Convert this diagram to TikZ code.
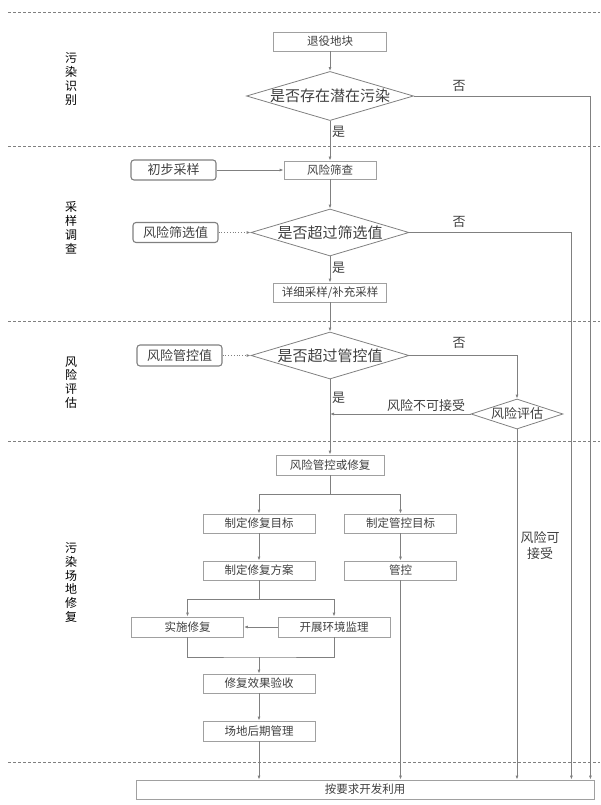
\documentclass[tikz,border=0pt]{standalone}
\usepackage{fontspec}
\newfontfamily\cjk{Noto Sans CJK SC}
\usetikzlibrary{shapes.geometric,arrows.meta}
\definecolor{linegray}{HTML}{808080}
\definecolor{boxgray}{HTML}{A0A0A0}
\definecolor{textgray}{HTML}{404040}
\tikzset{
  stepbox/.style={draw=boxgray, line width=0.8pt, text=textgray, font=\cjk\fontsize{11.5pt}{13pt}\selectfont, minimum width=112pt, minimum height=19pt, inner sep=0pt},
  inputbox/.style={draw=gray, line width=1.1pt, rounded corners=3pt, text=textgray, font=\cjk\fontsize{13pt}{15pt}\selectfont, minimum width=85pt, minimum height=20pt, inner sep=0pt},
  decision/.style={diamond, draw=linegray, line width=0.8pt, aspect=3.4, inner sep=0pt, text=textgray, font=\cjk\fontsize{15pt}{17pt}\selectfont, minimum width=158pt, minimum height=47pt},
  phase/.style={align=center, font=\cjk\fontsize{12pt}{13.8pt}\selectfont, text=black},
  answer/.style={text=textgray, font=\cjk\fontsize{13pt}{16pt}\selectfont, inner sep=0pt, align=center},
  flow/.style={draw=linegray, line width=0.8pt, -{Latex[length=4pt,width=3pt]}},
  joint/.style={draw=linegray, line width=0.8pt},
  hint/.style={flow, dotted},
  divider/.style={draw=gray, line width=0.9pt, dash pattern=on 3pt off 2pt},
}
\begin{document}
\begin{tikzpicture}[x=1pt,y=-1pt]
\useasboundingbox (0,0) rectangle (600,805);
\foreach \y in {12,146,321.5,441,762} \draw[divider] (8,\y) -- (600,\y);

\node[phase] (identify) at (71,79) {污\\染\\识\\别};
\node[phase] (survey) at (71,228) {采\\样\\调\\查};
\node[phase] (evaluate) at (71,382.5) {风\\险\\评\\估};
\node[phase] (remediate) at (71,582.5) {污\\染\\场\\地\\修\\复};

\node[stepbox, minimum width=113pt] (retired) at (330,41.5) {退役地块};
\node[decision] (potential) at (330,96) {是否存在潜在污染};
\node[stepbox, minimum width=92pt, minimum height=18pt] (screening) at (330,170) {风险筛查};
\node[inputbox] (presample) at (173.5,170) {初步采样};
\node[decision] (overscreen) at (330,232.5) {是否超过筛选值};
\node[inputbox] (screenvalue) at (175.5,232.5) {风险筛选值};
\node[stepbox, minimum width=113pt] (detailed) at (330,292.5) {详细采样/补充采样};
\node[decision] (overcontrol) at (330,355.5) {是否超过管控值};
\node[inputbox, minimum height=21pt] (controlvalue) at (179.5,355.5) {风险管控值};
\node[decision, aspect=3.07, minimum width=92pt, minimum height=30pt, font=\cjk\fontsize{13pt}{15pt}\selectfont] (assessment) at (517,414) {风险评估};
\node[stepbox, minimum width=108pt, minimum height=20pt] (controlfix) at (330,465) {风险管控或修复};
\node[stepbox] (fixgoal) at (259,523.5) {制定修复目标};
\node[stepbox] (controlgoal) at (400.5,523.5) {制定管控目标};
\node[stepbox] (fixplan) at (259,570.5) {制定修复方案};
\node[stepbox] (control) at (400.5,570.5) {管控};
\node[stepbox, minimum height=20pt] (dofix) at (187.5,627) {实施修复};
\node[stepbox, minimum height=20pt] (supervise) at (334,627) {开展环境监理};
\node[stepbox] (acceptance) at (259,683.5) {修复效果验收};
\node[stepbox, minimum height=20pt] (aftercare) at (259,731) {场地后期管理};
\node[stepbox, minimum width=458pt] (reuse) at (365,789.5) {按要求开发利用};

\node[answer] (yes1) at (338.5,132) {是};
\node[answer] (no1) at (459,86) {否};
\node[answer] (yes2) at (338.5,268) {是};
\node[answer] (no2) at (459,222) {否};
\node[answer] (no3) at (459,343) {否};
\node[answer] (yes3) at (338.5,398) {是};
\node[answer] (unacceptable) at (426,406) {风险不可接受};
\node[answer] (acceptable) at (540,546) {风险可\\接受};

\draw[flow] (retired) -- (potential);
\draw[flow] (potential) -- (screening);
\draw[flow] (potential.east) -| ([xshift=-4pt]reuse.north east);
\draw[flow] (presample) -- (screening);
\draw[flow] (screening) -- (overscreen);
\draw[hint] (screenvalue) -- (overscreen);
\draw[flow] (overscreen.east) -| ([xshift=-23pt]reuse.north east);
\draw[flow] (overscreen) -- (detailed);
\draw[flow] (detailed) -- (overcontrol);
\draw[hint] (controlvalue) -- (overcontrol);
\draw[flow] (overcontrol.east) -| (assessment.north);
\draw[flow] (overcontrol) -- (controlfix);
\draw[flow] (assessment.west) -- (assessment.west -| overcontrol.south);
\draw[flow] (assessment.south) -- (assessment.south |- reuse.north);
\coordinate (split) at (330,494);
\draw[joint] (controlfix) -- (split);
\draw[flow] (split) -| (fixgoal.north);
\draw[flow] (split) -| (controlgoal.north);
\draw[flow] (fixgoal) -- (fixplan);
\draw[flow] (controlgoal) -- (control);
\coordinate (split2) at (259,599);
\draw[joint] (fixplan) -- (split2);
\draw[flow] (split2) -| (dofix.north);
\draw[flow] (split2) -| (supervise.north);
\draw[flow] (supervise) -- (dofix);
\coordinate (merge) at (259,657);
\draw[joint] (dofix.south) |- (merge) -| (supervise.south);
\draw[flow] (merge) -- (acceptance);
\draw[flow] (acceptance) -- (aftercare);
\draw[flow] (aftercare) -- (aftercare |- reuse.north);
\draw[flow] (control) -- (control |- reuse.north);
\end{tikzpicture}
\end{document}
